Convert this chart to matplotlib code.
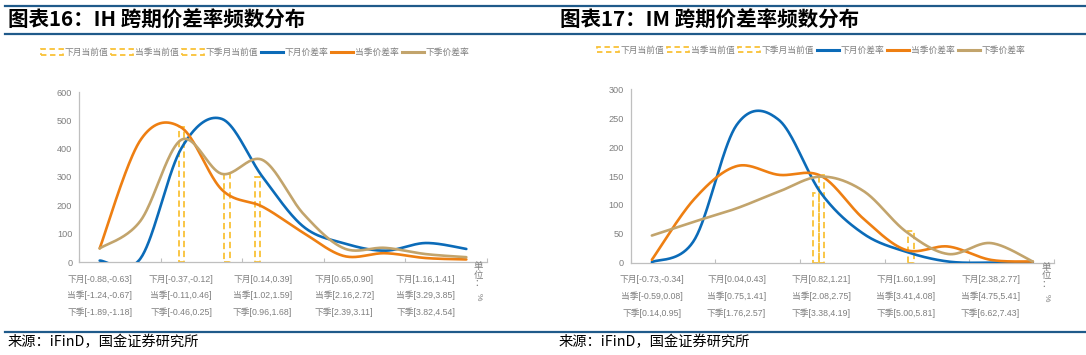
import numpy as np
import matplotlib
matplotlib.use('Agg')
import matplotlib.pyplot as plt
from matplotlib.patches import Patch
from matplotlib.lines import Line2D
import matplotlib.transforms as mtransforms

plt.rcParams['font.family'] = ['Liberation Sans', 'Noto Sans CJK SC']

# ---------------- data ----------------
n_bins = 10
# IH
ih_xiayue = [5, 12, 400, 505, 300, 125, 66, 40, 67, 46]
ih_dangji = [48, 430, 475, 255, 195, 103, 21, 31, 14, 9]
ih_xiaji = [48, 145, 431, 311, 360, 170, 48, 50, 28, 17]
ih_cur_xiayue = [None, None, None, None, 300, None, None, None, None, None]
ih_cur_dangji = [None, None, 475, None, None, None, None, None, None, None]
ih_cur_xiaji = [None, None, None, 311, None, None, None, None, None, None]
ih_labels = ['下月[-0.88,-0.63]\n当季[-1.24,-0.67]\n下季[-1.89,-1.18]',
             '下月[-0.37,-0.12]\n当季[-0.11,0.46]\n下季[-0.46,0.25]',
             '下月[0.14,0.39]\n当季[1.02,1.59]\n下季[0.96,1.68]',
             '下月[0.65,0.90]\n当季[2.16,2.72]\n下季[2.39,3.11]',
             '下月[1.16,1.41]\n当季[3.29,3.85]\n下季[3.82,4.54]']
ih_yticks = [0, 100, 200, 300, 400, 500, 600]

# IM
im_xiayue = [1, 39, 238, 247, 120, 50, 19, 2, 0, 1]
im_dangji = [5, 110, 167, 152, 150, 76, 22, 28, 5, 2]
im_xiaji = [47, 71, 94, 123, 149, 124, 54, 15, 34, 2]
im_cur_xiayue = [None, None, None, None, 121, None, None, None, None, None]
im_cur_dangji = [None, None, None, None, 152, None, None, None, None, None]
im_cur_xiaji = [None, None, None, None, None, None, 54, None, None, None]
im_labels = ['下月[-0.73,-0.34]\n当季[-0.59,0.08]\n下季[0.14,0.95]',
             '下月[0.04,0.43]\n当季[0.75,1.41]\n下季[1.76,2.57]',
             '下月[0.82,1.21]\n当季[2.08,2.75]\n下季[3.38,4.19]',
             '下月[1.60,1.99]\n当季[3.41,4.08]\n下季[5.00,5.81]',
             '下月[2.38,2.77]\n当季[4.75,5.41]\n下季[6.62,7.43]']
im_yticks = [0, 50, 100, 150, 200, 250, 300]

series_names = ['下月当前值', '当季当前值', '下季月当前值', '下月价差率', '当季价差率', '下季价差率']

# ---------------- style ----------------
C_BLUE = '#0B6BB8'
C_ORANGE = '#EE7F12'
C_TAN = '#C2A46C'
C_YEL = '#F9C237'
C_TXT = '#7F7F7F'
C_AX = '#BFBFBF'
C_RULE = '#1F5A8A'

W, H = 1086, 355
fig = plt.figure(figsize=(W / 100, H / 100), dpi=100)


def px(x, y):
    return x / W, 1 - y / H


def smooth(y, n=40):
    y = np.asarray(y, float)
    P = np.column_stack([np.arange(len(y)), y])
    out = []
    for i in range(len(P) - 1):
        p0 = P[i - 1] if i > 0 else P[i]
        p1, p2 = P[i], P[i + 1]
        p3 = P[i + 2] if i + 2 < len(P) else P[i + 1]
        c1 = p1 + (p2 - p0) / 6
        c2 = p2 - (p3 - p1) / 6
        t = np.linspace(0, 1, n)[:, None]
        seg = (1 - t) ** 3 * p1 + 3 * (1 - t) ** 2 * t * c1 + 3 * (1 - t) * t ** 2 * c2 + t ** 3 * p2
        out.append(seg if i == 0 else seg[1:])
    return np.vstack(out)


def draw_panel(rect, lines, curs, labels, yticks, title, title_x, legend_center, source_x):
    ax = fig.add_axes(rect)
    bw = 0.125
    for k, cur in enumerate(curs):
        for i, v in enumerate(cur):
            if v is not None:
                ax.bar(i + (k - 1) * bw, v, width=bw, fill=False, edgecolor=C_YEL,
                       linestyle=(0, (3.5, 2)), linewidth=1.3, zorder=2)
    for vals, c in zip(lines, [C_BLUE, C_ORANGE, C_TAN]):
        s = smooth(vals)
        ax.plot(s[:, 0], s[:, 1], color=c, lw=1.9, solid_capstyle='round', zorder=3)
    ax.set_xlim(-0.5, n_bins - 0.5)
    ax.set_ylim(yticks[0], yticks[-1])
    ax.set_yticks(yticks)
    ax.set_xticks(np.arange(0, n_bins, 2))
    ax.set_xticklabels(labels, linespacing=1.95)
    ax.set_xticks(np.arange(-0.5, n_bins, 2), minor=True)
    ax.tick_params(axis='x', which='major', length=0, pad=9, labelsize=6.3, colors=C_TXT)
    ax.tick_params(axis='x', which='minor', length=3, direction='in', color=C_AX, width=0.8)
    ax.tick_params(axis='y', length=0, pad=5, labelsize=6.6, colors=C_TXT)
    for sp in ['top', 'right']:
        ax.spines[sp].set_visible(False)
    for sp in ['left', 'bottom']:
        ax.spines[sp].set_color(C_AX)
        ax.spines[sp].set_linewidth(0.9)
    # unit label
    tr = mtransforms.offset_copy(ax.transAxes, fig=fig, x=-8, y=0, units='dots')
    ax.text(1.0, 0.0, '单\n位\n：', transform=tr, ha='center', va='top', fontsize=6.8,
            color=C_TXT, linespacing=0.95, family=['Noto Sans CJK SC'])
    tr2 = mtransforms.offset_copy(ax.transAxes, fig=fig, x=-8, y=-31, units='dots')
    ax.text(1.0, 0.0, '%', transform=tr2, ha='center', va='top', fontsize=6, rotation=-90,
            color=C_TXT)
    # legend
    handles = [Patch(facecolor='none', edgecolor=C_YEL, linestyle=(0, (3, 2)), linewidth=1.3)
               for _ in range(3)]
    handles += [Line2D([], [], color=c, lw=2.2) for c in [C_BLUE, C_ORANGE, C_TAN]]
    leg = fig.legend(handles, series_names, loc='center', bbox_to_anchor=legend_center,
                     ncol=6, frameon=False, handlelength=2.5, handleheight=0.6,
                     handletextpad=0.2, columnspacing=0.35, borderaxespad=0, borderpad=0,
                     prop={'family': ['Noto Sans CJK SC'], 'size': 6.3})
    for t in leg.get_texts():
        t.set_color(C_TXT)
    # title and source
    fig.text(*px(title_x, 20), title, ha='left', va='center', fontsize=14.8, fontweight='bold',
             family=['Noto Sans CJK SC'], color='black')
    fig.text(*px(source_x, 342), '来源：iFinD，国金证券研究所', ha='left', va='center',
             fontsize=10.3, family=['Noto Sans CJK SC'], color='black')
    return ax


# left panel
l, b = px(79.3, 262)
draw_panel([l, b, 407.4 / W, 170 / H], [ih_xiayue, ih_dangji, ih_xiaji],
           [ih_cur_xiayue, ih_cur_dangji, ih_cur_xiaji], ih_labels, ih_yticks,
           '图表16：IH 跨期价差率频数分布', 8, px(255, 52.7), 8)
# right panel
l, b = px(630.7, 262.7)
draw_panel([l, b, 423.3 / W, 173.4 / H], [im_xiayue, im_dangji, im_xiaji],
           [im_cur_xiayue, im_cur_dangji, im_cur_xiaji], im_labels, im_yticks,
           '图表17：IM 跨期价差率频数分布', 560, px(811, 50), 559)

# horizontal rules
for y, lw in [(6, 1.6), (34, 1.6), (332, 1.6)]:
    fig.add_artist(Line2D([5 / W, 1.0], [1 - y / H] * 2, color=C_RULE, lw=lw))

fig.savefig('out.png', dpi=100)
